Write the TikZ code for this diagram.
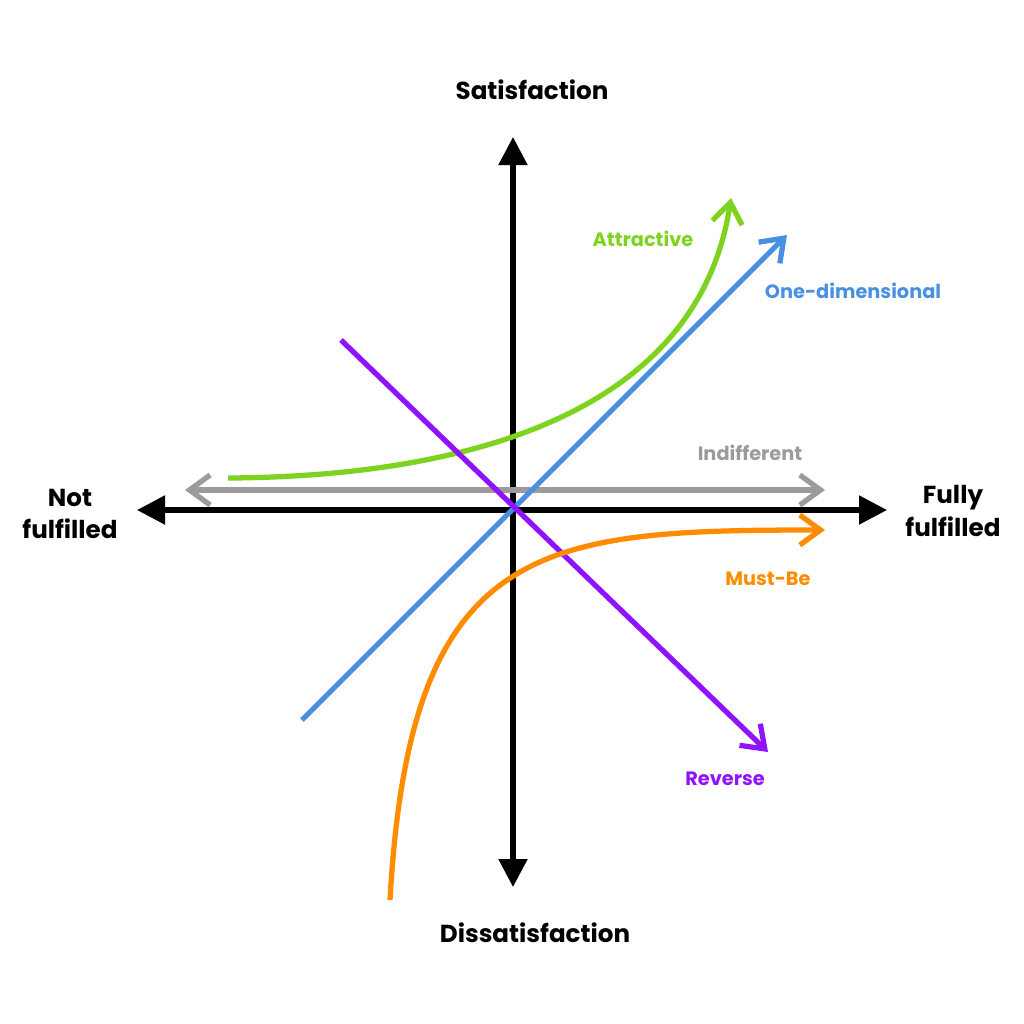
\documentclass[tikz,border=0pt]{standalone}
\usepackage{fontspec}
\setmainfont{Poppins}
\usetikzlibrary{arrows.meta}
\definecolor{cgreen}{HTML}{7ED321}
\definecolor{cblue}{HTML}{4A90E2}
\definecolor{cpurple}{HTML}{9013FE}
\definecolor{corange}{HTML}{FF8C00}
\definecolor{cgray}{HTML}{9B9B9B}
\begin{document}
\begin{tikzpicture}[x=0.03cm,y=-0.03cm,
  axis/.style={line width=4.5pt,-{Triangle[length=0.84cm,width=0.84cm]}},
  curve/.style={line width=4.5pt,-{Straight Barb[length=0.62cm,width=0.9cm]}},
  biglabel/.style={font=\bfseries\fontsize{21}{27.5}\selectfont,align=center},
  smalllabel/.style={font=\bfseries\fontsize{16.5}{20}\selectfont}]
\useasboundingbox (0,0) rectangle (1024,1024);
% axes
\coordinate (O) at (513,510);
\coordinate (L) at (137,510);
\coordinate (R) at (887,510);
\coordinate (T) at (513,137);
\coordinate (B) at (513,887);
\draw[axis] (O) -- (R);
\draw[axis] (O) -- (L);
\draw[axis] (O) -- (T);
\draw[axis] (O) -- (B);
\node[biglabel] (sat) at (532,90) {Satisfaction};
\node[biglabel] (dis) at (535,933) {Dissatisfaction};
\node[biglabel] (nf) at (70,514) {Not\\fulfilled};
\node[biglabel] (ff) at (953,511) {Fully\\fulfilled};
% indifferent
\coordinate (i1) at (185,490);
\coordinate (i2) at (825,490);
\draw[curve,cgray,{Straight Barb[length=0.62cm,width=0.9cm]}-{Straight Barb[length=0.62cm,width=0.9cm]}] (i1) -- (i2);
\node[smalllabel,text=cgray] (ind) at (750,453) {Indifferent};
% attractive
\coordinate (a1) at (228,478);
\coordinate (a2) at (731,198);
\draw[curve,cgreen] (a1) .. controls (420,477) and (695,435) .. (a2);
\node[smalllabel,text=cgreen] (att) at (643,239) {Attractive};
% one-dimensional
\coordinate (o1) at (302,720);
\coordinate (o2) at (787,235);
\draw[curve,cblue] (o1) -- (o2);
\node[smalllabel,text=cblue] (one) at (853,291) {One-dimensional};
% reverse
\coordinate (r1) at (341,340);
\coordinate (r2) at (768,752);
\draw[curve,cpurple] (r1) -- (r2);
\node[smalllabel,text=cpurple] (rev) at (725,779) {Reverse};
% must-be
\coordinate (m1) at (390,900);
\coordinate (m2) at (825,530);
\draw[curve,corange] (m1) .. controls (410,540) and (540,530) .. (m2);
\node[smalllabel,text=corange] (must) at (768,579) {Must-Be};
\end{tikzpicture}
\end{document}
